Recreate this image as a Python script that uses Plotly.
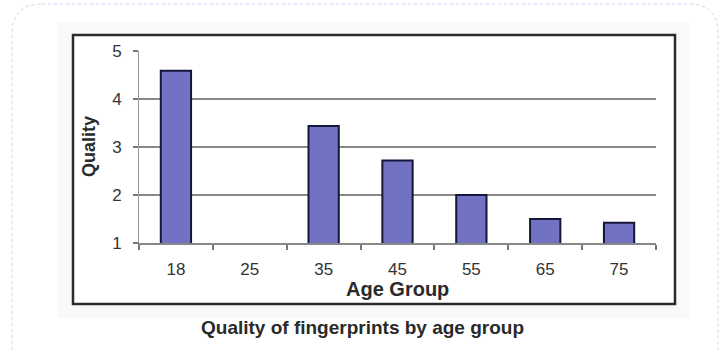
import plotly.graph_objects as go

# Mean fingerprint quality per age group (no sample for the 25 group)
age_groups = ["18", "25", "35", "45", "55", "65", "75"]
quality = [4.59, None, 3.44, 2.72, 2.0, 1.5, 1.42]
y_ticks = [1, 2, 3, 4, 5]

W, H = 722, 353
ML, MR, MT, MB = 139, 66, 51, 110
PW, PH = W - ML - MR, H - MT - MB


def px(x):
    return (x - ML) / PW


def py(y):
    return (H - MB - y) / PH


fig = go.Figure()
fig.add_trace(go.Bar(
    x=age_groups,
    y=quality,
    base=0,
    width=0.41,
    marker=dict(color="#7272C2", line=dict(color="#16163A", width=2)),
    hoverinfo="skip",
))

font = "Liberation Sans, Arial, sans-serif"

fig.update_layout(
    width=W,
    height=H,
    margin=dict(l=ML, r=MR, t=MT, b=MB),
    paper_bgcolor="white",
    plot_bgcolor="white",
    showlegend=False,
    font=dict(family=font, color="#2a2a2a"),
    xaxis=dict(
        type="category",
        range=[-0.5, 6.5],
        tickson="boundaries",
        ticks="outside",
        ticklen=5,
        tickwidth=1.5,
        tickcolor="#777",
        showline=True,
        linecolor="#888",
        linewidth=2,
        showgrid=False,
        tickfont=dict(size=17, color="#333"),
        ticklabelstandoff=10,
    ),
    yaxis=dict(
        range=[1, 5],
        tickvals=y_ticks,
        ticks="outside",
        ticklen=5,
        tickwidth=1.5,
        tickcolor="#777",
        showline=True,
        linecolor="#999",
        linewidth=1,
        showgrid=True,
        gridcolor="#888",
        gridwidth=2,
        zeroline=False,
        tickfont=dict(size=17, color="#333"),
        ticklabelstandoff=8,
    ),
)

shapes = [
    # rounded dashed outer border
    dict(
        type="path",
        xref="paper", yref="paper",
        path=(
            f"M {px(42)},{py(4)} L {px(688)},{py(4)} "
            f"Q {px(718)},{py(4)} {px(718)},{py(34)} "
            f"L {px(718)},{py(350)} "
            f"M {px(12)},{py(350)} L {px(12)},{py(34)} "
            f"Q {px(12)},{py(4)} {px(42)},{py(4)}"
        ),
        line=dict(color="#C4D6EC", width=1, dash="dot"),
        layer="below",
    ),
    # faint grey panel behind the chart frame
    dict(
        type="rect", xref="paper", yref="paper",
        x0=px(58), x1=px(690), y0=py(22), y1=py(318),
        fillcolor="#F9F9F9", line=dict(width=0), layer="below",
    ),
    dict(
        type="rect", xref="paper", yref="paper",
        x0=px(73), x1=px(675), y0=py(35), y1=py(304),
        fillcolor="white", line=dict(width=0), layer="below",
    ),
    # chart frame
    dict(
        type="rect", xref="paper", yref="paper",
        x0=px(73), x1=px(675), y0=py(35), y1=py(304),
        line=dict(color="#2b2b2b", width=2.5), layer="above",
    ),
]
fig.update_layout(shapes=shapes)

fig.add_annotation(
    text="<b>Age Group</b>", xref="paper", yref="paper",
    x=px(397), y=py(289), xanchor="center", yanchor="middle", showarrow=False,
    font=dict(size=20, family=font, color="#2a2a2a"),
)
fig.add_annotation(
    text="<b>Quality</b>", xref="paper", yref="paper",
    x=px(89), y=py(147), xanchor="center", yanchor="middle", showarrow=False,
    textangle=-90,
    font=dict(size=18, family=font, color="#2a2a2a"),
)
fig.add_annotation(
    text="<b>Quality of fingerprints by age group</b>", xref="paper", yref="paper",
    x=px(362), y=py(327), xanchor="center", yanchor="middle", showarrow=False,
    font=dict(size=19, family=font, color="#2a2a2a"),
)

fig.write_html("out.html")
